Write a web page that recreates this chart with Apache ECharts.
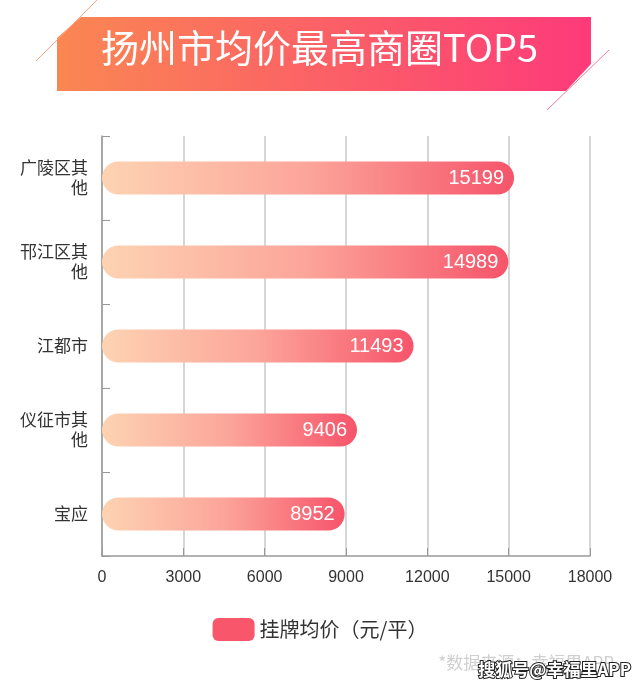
<!DOCTYPE html>
<html><head><meta charset="utf-8">
<script src="https://cdn.jsdelivr.net/npm/echarts@6/dist/echarts.min.js"></script>
<style>html,body{margin:0;padding:0;background:#fff}#c{width:640px;height:689px}</style>
</head><body><div id="c"></div>
<script>
var categories = ['广陵区其\n他', '邗江区其\n他', '江都市', '仪征市其\n他', '宝应'];
var values = [15199, 14989, 11493, 9406, 8952];
var seriesName = '挂牌均价（元/平）';
var titleText = '扬州市均价最高商圈TOP5';
var sourceText = '*数据来源：幸福里APP';
var watermark = '搜狐号@幸福里APP';

var font = '"Noto Sans CJK SC", "Liberation Sans", sans-serif';
var chart = echarts.init(document.getElementById('c'));
var barGrad = new echarts.graphic.LinearGradient(0, 0, 1, 0, [
  {offset: 0, color: '#fdd3b2'},
  {offset: 0.5, color: '#fca59a'},
  {offset: 1, color: '#f6546a'}
]);
chart.setOption({
  animation: false,
  backgroundColor: '#fff',
  textStyle: {fontFamily: font},
  grid: {left: 102, right: 50, top: 136, bottom: 133},
  legend: {
    data: [{name: seriesName, itemStyle: {color: '#f7566b'}}],
    bottom: 43, left: 'center',
    itemWidth: 42, itemHeight: 23, itemGap: 10,
    textStyle: {fontSize: 20, color: '#333', fontFamily: font},
    icon: 'roundRect'
  },
  xAxis: {
    type: 'value', min: 0, max: 18000, interval: 3000,
    axisLine: {show: true, lineStyle: {color: '#999', width: 1.5}},
    axisTick: {show: true, inside: true, length: 8, lineStyle: {color: '#999'}},
    splitLine: {show: true, lineStyle: {color: '#c8c8c8', width: 1.5}},
    axisLabel: {fontSize: 16, color: '#333', margin: 14, fontFamily: '"Liberation Sans", Arial, sans-serif',
      formatter: function (v) { return String(v); }}
  },
  yAxis: {
    type: 'category', data: categories, inverse: true,
    axisLine: {show: true, lineStyle: {color: '#999', width: 1.5}},
    axisTick: {show: true, inside: true, length: 8, lineStyle: {color: '#999'}},
    axisLabel: {fontSize: 17, color: '#333', margin: 14, align: 'right', lineHeight: 20, fontFamily: font}
  },
  series: [{
    name: seriesName, type: 'bar', data: values, barWidth: 33,
    itemStyle: {color: barGrad, borderRadius: 16.5},
    label: {show: true, position: 'insideRight', distance: 10, color: '#fff', fontSize: 20, fontFamily: '"Liberation Sans", Arial, sans-serif'}
  }],
  graphic: [
    {type: 'polygon', shape: {points: [[81, 17], [591, 17], [591, 64], [566, 91], [57, 91], [57, 38]]},
     style: {fill: new echarts.graphic.LinearGradient(0, 0, 1, 0, [{offset: 0, color: '#fa8752'}, {offset: 1, color: '#fd3a7a'}])}},
    {type: 'line', shape: {x1: 97, y1: 0, x2: 36, y2: 61}, style: {stroke: '#f7a27a', lineWidth: 1}},
    {type: 'line', shape: {x1: 609, y1: 50, x2: 547, y2: 110}, style: {stroke: '#f27a9a', lineWidth: 1}},
    {type: 'text', left: 101, top: 29, style: {text: titleText, fill: '#fff', fontSize: 38, fontFamily: font}},
    {type: 'text', right: 26, top: 654, style: {text: sourceText, fill: '#cfcfcf', fontSize: 17, fontFamily: font}},
    {type: 'text', right: 8, top: 660, style: {text: watermark, fill: '#fff', stroke: '#222', lineWidth: 2, fontSize: 17, fontWeight: 'bold', fontFamily: font}}
  ]
});
</script></body></html>
